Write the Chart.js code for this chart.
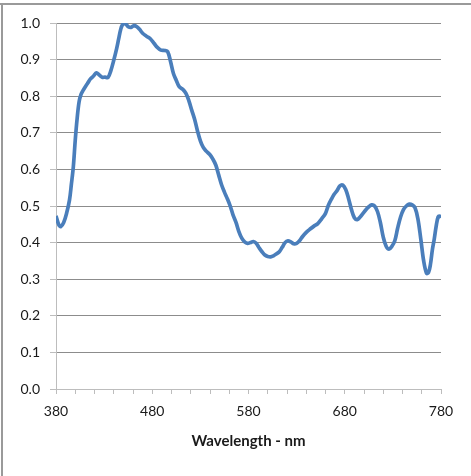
<!DOCTYPE html>
<html>
<head>
<meta charset="utf-8">
<script src="https://cdn.jsdelivr.net/npm/chart.js@4"></script>
<style>
  html, body { margin: 0; padding: 0; background: #fff; }
  #wrap { width: 471px; height: 476px; position: relative; }
</style>
</head>
<body>
<div id="wrap"><canvas id="chartSpectrum"></canvas></div>
<script>
// Spectrum
var wavelengths = [380, 383, 385, 388, 391, 394, 396, 398, 400, 402, 404, 406, 408, 410, 413, 416, 419, 422, 425, 428,
  431, 434, 437, 440, 443, 445, 447, 449, 452, 455, 458, 461, 464, 467, 470, 474, 478, 482, 485, 489,
  493, 496, 499, 502, 505, 508, 512, 515, 518, 521, 524, 527, 530, 533, 536, 540, 543, 546, 549, 552,
  555, 558, 561, 564, 567, 570, 573, 576, 579, 582, 585, 588, 591, 594, 597, 600, 603, 606, 609, 612,
  615, 618, 621, 624, 627, 630, 633, 636, 640, 644, 648, 652, 656, 660, 663, 666, 669, 672, 675, 678,
  681, 684, 687, 690, 693, 696, 699, 702, 705, 708, 711, 714, 717, 720, 723, 726, 729, 732, 735, 738,
  741, 744, 747, 750, 753, 756, 759, 762, 765, 767, 769, 771, 773, 775, 777, 779, 780];
var intensity = [0.473, 0.448, 0.444, 0.455, 0.48, 0.516, 0.56, 0.607, 0.68, 0.74, 0.785, 0.805, 0.815, 0.824, 0.836, 0.848, 0.855, 0.864, 0.858, 0.852,
  0.852, 0.851, 0.87, 0.898, 0.93, 0.955, 0.98, 0.995, 0.998, 0.99, 0.988, 0.993, 0.99, 0.982, 0.972, 0.964, 0.957, 0.944, 0.934, 0.926,
  0.925, 0.922, 0.895, 0.862, 0.843, 0.826, 0.818, 0.808, 0.788, 0.762, 0.737, 0.705, 0.678, 0.66, 0.65, 0.64, 0.628, 0.612, 0.585, 0.558,
  0.538, 0.52, 0.5, 0.475, 0.455, 0.43, 0.412, 0.402, 0.398, 0.4, 0.403, 0.398, 0.386, 0.375, 0.366, 0.362, 0.361, 0.364, 0.369, 0.375,
  0.387, 0.4, 0.405, 0.402, 0.397, 0.398, 0.405, 0.416, 0.428, 0.437, 0.445, 0.452, 0.465, 0.48, 0.502, 0.518, 0.532, 0.542, 0.555, 0.557,
  0.545, 0.52, 0.49, 0.468, 0.463, 0.47, 0.48, 0.49, 0.498, 0.503, 0.5, 0.485, 0.455, 0.415, 0.39, 0.382, 0.39, 0.405, 0.44, 0.47,
  0.49, 0.5, 0.505, 0.503, 0.495, 0.465, 0.41, 0.35, 0.316, 0.318, 0.34, 0.38, 0.41, 0.445, 0.47, 0.472, 0.468];

var xMin = 380, xMax = 780, xStep = 20, xLabelStep = 100;
var yMin = 0, yMax = 1, yStep = 0.1;
var xTitle = "Wavelength - nm";

var points = wavelengths.map(function (w, i) { return { x: w, y: intensity[i] }; });

var FONT = "Lato, 'Liberation Sans', sans-serif";
var TEXT = "#1a1a1a";

// white background + the frame lines at top and left of the picture
var framePlugin = {
  id: "frame",
  beforeDraw: function (chart) {
    var ctx = chart.ctx;
    ctx.save();
    ctx.fillStyle = "#fff";
    ctx.fillRect(0, 0, chart.width, chart.height);
    ctx.strokeStyle = "#9a9a9a";
    ctx.lineWidth = 2;
    ctx.beginPath();
    ctx.moveTo(0, 4);
    ctx.lineTo(chart.width, 4);
    ctx.moveTo(2, 4);
    ctx.lineTo(2, chart.height);
    ctx.stroke();
    ctx.restore();
  }
};

new Chart(document.getElementById("chartSpectrum"), {
  type: "line",
  data: {
    datasets: [{
      data: points,
      borderColor: "#4a7ebb",
      borderWidth: 3.7,
      pointRadius: 0,
      tension: 0.35,
      fill: false,
    }],
  },
  plugins: [framePlugin],
  options: {
    responsive: true,
    maintainAspectRatio: false,
    animation: false,
    layout: { padding: { top: 23, right: 30, left: 0, bottom: 0 } },
    plugins: { legend: { display: false }, tooltip: { enabled: false } },
    scales: {
      x: {
        type: "linear",
        min: xMin,
        max: xMax,
        afterFit: function (s) { s.height = 87; },
        grid: { drawOnChartArea: false, drawTicks: true, tickLength: 5, tickColor: "#bdbdbd" },
        border: { color: "#bdbdbd", width: 1 },
        ticks: {
          stepSize: xStep,
          autoSkip: false,
          maxRotation: 0,
          padding: 9,
          color: TEXT,
          font: { family: FONT, size: 14 },
          callback: function (v) { return (v - xMin) % xLabelStep === 0 ? String(v) : ""; },
        },
        title: {
          display: true,
          text: xTitle,
          color: TEXT,
          font: { family: FONT, size: 15, weight: "bold" },
          padding: { top: 0, bottom: 26 },
        },
      },
      y: {
        min: yMin,
        max: yMax,
        afterFit: function (s) { s.width = 56; },
        grid: { color: "#8c8c8c", lineWidth: 1, tickLength: 6, tickColor: "#bdbdbd" },
        border: { color: "#bdbdbd", width: 1 },
        ticks: {
          stepSize: yStep,
          padding: 10,
          color: TEXT,
          font: { family: FONT, size: 14 },
          callback: function (v) { return v.toFixed(1); },
        },
      },
    },
  },
});
</script>
</body>
</html>
